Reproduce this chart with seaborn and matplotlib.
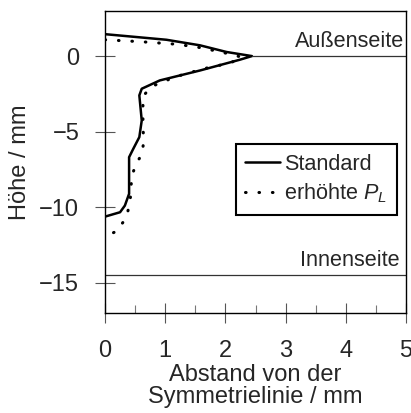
import pandas as pd
import seaborn as sns
import matplotlib.pyplot as plt

sns.set_style("ticks")
plt.rcParams["font.family"] = ["Liberation Sans", "DejaVu Sans"]
plt.rcParams["mathtext.fontset"] = "custom"
plt.rcParams["mathtext.rm"] = "Liberation Sans"
plt.rcParams["mathtext.it"] = "Liberation Sans:italic"

# Kontur "Standard" (Abstand / mm, Höhe / mm)
std_x = [0.0, 1.02, 1.58, 2.02, 2.44, 2.24, 1.58, 0.91, 0.61, 0.57, 0.61, 0.57,
         0.47, 0.40, 0.40, 0.33, 0.25, 0.0]
std_y = [1.45, 1.08, 0.71, 0.27, 0.0, -0.24, -0.95, -1.61, -2.16, -2.6, -4.26,
         -5.36, -6.13, -6.69, -9.11, -9.89, -10.33, -10.62]

# Kontur "erhöhte P_L"
pl_x = [0.0, 0.6, 1.2, 1.6, 2.0, 2.27, 2.08, 1.69, 1.30, 0.94, 0.76, 0.63, 0.63,
        0.63, 0.64, 0.61, 0.51, 0.45, 0.43, 0.42, 0.38, 0.30, 0.19, 0.0]
pl_y = [1.08, 0.95, 0.78, 0.55, 0.2, -0.07, -0.46, -0.79, -1.21, -1.72, -2.05,
        -2.67, -3.42, -4.15, -5.76, -6.51, -7.17, -7.9, -8.68, -9.49, -10.26,
        -10.99, -11.59, -11.94]

outer_y = 0.0
inner_y = -14.5
xticks = [0, 1, 2, 3, 4, 5]
yticks = [0, -5, -10, -15]

df_std = pd.DataFrame({"x": std_x, "y": std_y})
df_pl = pd.DataFrame({"x": pl_x, "y": pl_y})

fig = plt.figure(figsize=(4.11, 4.13), dpi=100)
ax = fig.add_axes([0.2555, 0.242, 0.7325, 0.732])

sns.lineplot(data=df_std, x="x", y="y", sort=False, estimator=None, ax=ax,
             color="black", lw=1.8, label="Standard")
sns.lineplot(data=df_pl, x="x", y="y", sort=False, estimator=None, ax=ax,
             color="black", lw=2.2, dashes=False, label=r"erhöhte $P_L$")
ax.lines[-1].set_linestyle((0, (0.2, 4.2)))
ax.lines[-1].set_dash_capstyle("round")

ax.plot([max(std_x), 5], [outer_y, outer_y], color="#333333", lw=0.9)
ax.axhline(inner_y, color="#333333", lw=0.9)

ax.text(4.97, 0.6, "Außenseite", ha="right", va="baseline", fontsize=15.6)
ax.text(4.9, -13.86, "Innenseite", ha="right", va="baseline", fontsize=15.6)

ax.set_xlim(0, 5)
ax.set_ylim(-17, 3)
ax.set_xticks(xticks)
ax.set_xticks([0.5, 1.5, 2.5, 3.5, 4.5], minor=True)
ax.set_yticks(yticks)
ax.tick_params(axis="both", which="major", direction="inout", length=15,
               width=0.8, color="#555555", labelsize=17)
ax.tick_params(axis="x", which="major", pad=12)
ax.tick_params(axis="y", which="major", pad=11)
ax.tick_params(axis="x", which="minor", direction="in", length=6, width=0.8,
               color="#777777")
for s in ax.spines.values():
    s.set_color("black")
    s.set_linewidth(1.0)

ax.set_xlabel("Abstand von der\nSymmetrielinie / mm", fontsize=17, labelpad=1,
              linespacing=1.05)
ax.set_ylabel("Höhe / mm", fontsize=17, labelpad=6)

leg = ax.legend(loc="upper right", bbox_to_anchor=(0.971, 0.559),
                borderaxespad=0, fontsize=15.6, handlelength=1.6,
                handletextpad=0.2, borderpad=0.45, labelspacing=0.3,
                fancybox=False, framealpha=1)
leg.get_frame().set_edgecolor("black")
leg.get_frame().set_linewidth(1.5)

fig.savefig("out.png", dpi=100)
